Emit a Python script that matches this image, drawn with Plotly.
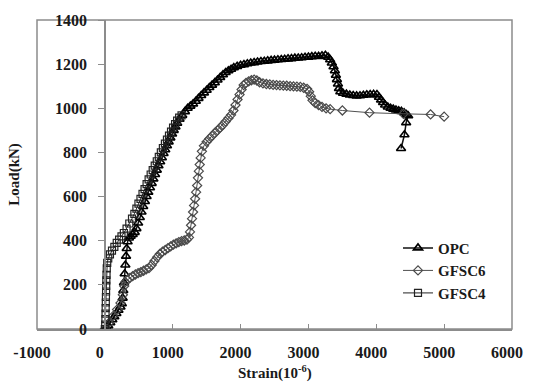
import plotly.graph_objects as go

# ---- data (strain in 10^-6, load in kN) ----
opc_strain = [0, 20, 50, 80, 110, 140, 170, 200, 230, 250, 262, 272, 282, 292, 302, 312, 322, 335, 355, 380,
              410, 440, 465, 490, 515, 540, 565, 590, 615, 640, 665, 690, 715, 740, 765, 790, 815, 840, 865,
              890, 915, 940, 965, 990, 1015, 1040, 1066, 1100, 1140, 1180, 1220, 1260, 1300, 1340, 1380, 1420,
              1460, 1500, 1540, 1580, 1620, 1660, 1700, 1740, 1780, 1820, 1860, 1900, 1950, 2000, 2050, 2100,
              2150, 2200, 2250, 2300, 2350, 2400, 2450, 2500, 2550, 2600, 2650, 2700, 2750, 2800, 2850, 2900,
              2950, 3000, 3050, 3100, 3150, 3200, 3250, 3290, 3320, 3345, 3370, 3390, 3405, 3420, 3435, 3450,
              3470, 3510, 3560, 3610, 3660, 3710, 3760, 3810, 3860, 3910, 3960, 4010, 4040, 4070, 4100, 4130,
              4170, 4210, 4250, 4290, 4330, 4370, 4410, 4445, 4470, 4440, 4415, 4365]
opc_load = [0, 5, 15, 28, 42, 56, 70, 85, 100, 115, 140, 175, 210, 250, 290, 330, 365, 395, 412, 420,
            428, 438, 455, 480, 505, 530, 555, 578, 600, 620, 640, 660, 680, 700, 720, 740, 758, 776, 795,
            812, 830, 848, 866, 884, 900, 916, 932, 950, 968, 985, 1000, 1010, 1020, 1032, 1045, 1058,
            1070, 1082, 1094, 1105, 1116, 1128, 1140, 1152, 1162, 1170, 1177, 1184, 1190, 1195, 1198, 1202,
            1205, 1207, 1210, 1212, 1213, 1215, 1217, 1218, 1220, 1221, 1222, 1224, 1225, 1227, 1228, 1229,
            1231, 1232, 1234, 1236, 1235, 1238, 1240, 1232, 1220, 1205, 1188, 1170, 1150, 1130, 1110, 1090,
            1075, 1068, 1064, 1060, 1058, 1056, 1057, 1059, 1061, 1062, 1063, 1062, 1050, 1038, 1026, 1015,
            1006, 1000, 996, 992, 989, 986, 980, 972, 966, 935, 880, 818]

g6_strain = [0, 60, 120, 180, 230, 265, 285, 300, 330, 370, 410, 450, 490, 530, 570, 610, 650, 690, 730,
             770, 810, 850, 890, 930, 970, 1010, 1050, 1090, 1130, 1170, 1210, 1240, 1255, 1270, 1285, 1300,
             1315, 1330, 1345, 1360, 1372, 1385, 1398, 1412, 1430, 1460, 1500, 1540, 1580, 1620, 1660, 1700,
             1740, 1780, 1820, 1860, 1895, 1925, 1955, 1985, 2015, 2045, 2080, 2120, 2160, 2200, 2240, 2280,
             2330, 2380, 2430, 2480, 2530, 2580, 2630, 2680, 2730, 2780, 2830, 2880, 2930, 2980, 3010, 3035,
             3060, 3100, 3150, 3200, 3260, 3320, 3500, 3900, 4400, 4800, 5000]
g6_load = [0, 28, 58, 88, 118, 155, 195, 212, 222, 232, 240, 247, 253, 258, 264, 270, 276, 290, 308,
           325, 340, 350, 358, 366, 374, 382, 388, 394, 398, 401, 405, 415, 440, 470, 500, 530,
           560, 590, 620, 650, 685, 715, 745, 775, 805, 830, 848, 862, 875, 888, 900, 912,
           925, 940, 955, 970, 990, 1015, 1040, 1062, 1085, 1105, 1115, 1122, 1127, 1130, 1126, 1118,
           1113, 1110, 1108, 1106, 1105, 1104, 1103, 1102, 1100, 1099, 1098, 1097, 1093, 1088, 1075, 1055,
           1036, 1024, 1014, 1006, 1000, 996, 990, 980, 975, 972, 962]

g4_strain = [0, 5, 8, 10, 12, 14, 16, 18, 20, 22, 25, 28, 35, 50, 75, 105, 140, 175, 210, 245, 280, 320,
             360, 400, 435, 465, 495, 525, 555, 585, 615, 645, 675, 705, 735, 765, 795, 825, 855, 885, 915,
             945, 975, 1005, 1035, 1065, 1095, 1130]
g4_load = [0, 20, 45, 70, 95, 120, 145, 170, 195, 220, 245, 275, 300, 320, 338, 355, 372, 390, 405, 420,
           435, 455, 478, 500, 522, 545, 568, 590, 612, 634, 656, 678, 700, 720, 740, 760, 780, 800, 820,
           840, 858, 876, 894, 912, 928, 944, 958, 968]

x_ticks = [-1000, 0, 1000, 2000, 3000, 4000, 5000, 6000]
y_ticks = [0, 200, 400, 600, 800, 1000, 1200, 1400]

FONT = "Liberation Serif"
TXT = "#1a1a1a"
AXC = "#8c8c8c"

fig = go.Figure()
fig.add_trace(go.Scatter(
    x=opc_strain, y=opc_load, name="OPC", mode="lines+markers",
    line=dict(color="#111111", width=1.5),
    marker=dict(symbol="triangle-up-open", size=8, color="#000000", line=dict(width=1.6, color="#000000"))))
fig.add_trace(go.Scatter(
    x=g6_strain, y=g6_load, name="GFSC6", mode="lines+markers",
    line=dict(color="#505050", width=1),
    marker=dict(symbol="diamond-open", size=7, color="#4a4a4a", line=dict(width=1.2, color="#4a4a4a"))))
fig.add_trace(go.Scatter(
    x=g4_strain, y=g4_load, name="GFSC4", mode="lines+markers",
    line=dict(color="#222222", width=1),
    marker=dict(symbol="square-open", size=7, color="#222222", line=dict(width=1.2, color="#222222"))))

fig.update_layout(
    width=535, height=384,
    margin=dict(l=37, r=17, t=12, b=55),
    paper_bgcolor="white", plot_bgcolor="white",
    font=dict(family=FONT, size=16, color=TXT),
    showlegend=True,
    legend=dict(x=0.76, y=0.315, xanchor="left", yanchor="top",
                font=dict(family=FONT, size=15, color=TXT, weight="bold"),
                bgcolor="rgba(0,0,0,0)", itemwidth=30, tracegroupgap=0),
    xaxis=dict(range=[-1000, 6000], tickvals=x_ticks, ticktext=[str(v) for v in x_ticks],
               showgrid=False, zeroline=False, showline=True, linecolor=AXC, linewidth=1.5,
               ticks="inside", ticklen=5, tickcolor=AXC, tickwidth=1,
               ticklabelstandoff=8, ticklabelshift=-5,
               tickfont=dict(family=FONT, size=16, color=TXT, weight="bold")),
    yaxis=dict(range=[0, 1400], tickvals=y_ticks, ticktext=[str(v) for v in y_ticks],
               anchor="free", position=1/7,
               showgrid=False, zeroline=False, showline=True, linecolor=AXC, linewidth=1.5,
               ticks="outside", ticklen=6, tickcolor=AXC, tickwidth=1,
               ticklabelstandoff=8,
               tickfont=dict(family=FONT, size=16, color=TXT, weight="bold")),
)

# outer frame
fig.add_shape(type="rect", xref="x domain", yref="y domain", x0=0, x1=1, y0=0, y1=1,
              line=dict(color=AXC, width=1.5), fillcolor="rgba(0,0,0,0)", layer="below")

fig.add_annotation(text="Strain(10<sup>-6</sup>)", xref="paper", yref="paper", x=0.5, y=-0.14,
                   xanchor="center", yanchor="middle", showarrow=False,
                   font=dict(family=FONT, size=15, color=TXT, weight="bold"))
fig.add_annotation(text="Load(kN)", xref="paper", yref="paper", x=-0.048, y=0.5, textangle=-90,
                   xanchor="center", yanchor="middle", showarrow=False,
                   font=dict(family=FONT, size=15, color=TXT, weight="bold"))

fig.write_html("out.html")
